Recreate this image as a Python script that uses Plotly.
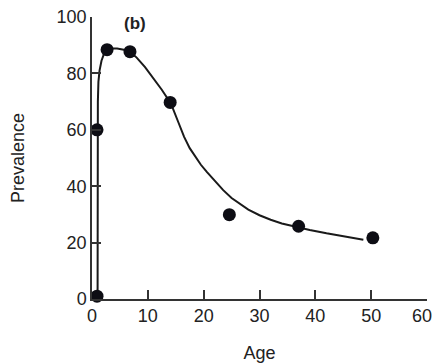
import plotly.graph_objects as go

# Observed data points
age_obs = [0.9, 0.9, 2.7, 6.8, 14.0, 24.6, 37.0, 50.3]
prev_obs = [1, 60, 88.4, 87.7, 69.7, 29.9, 25.8, 21.7]

# Fitted curve
age_fit = [1.0, 1.0, 1.05, 1.15, 1.35, 1.7, 2.2, 2.7, 3.5, 4.5, 5.7, 6.8, 8.0, 9.5, 11.0,
           12.5, 13.5, 14.5, 15.5, 16.5, 17.5, 18.5, 19.5, 20.6, 22.0, 23.5, 25.0, 26.5,
           28.0, 30.0, 32.0, 34.0, 36.6, 39.0, 42.0, 45.0, 48.6]
prev_fit = [0, 40, 70, 77, 81, 84.5, 87.2, 88.4, 88.8, 88.8, 88.4, 87.7, 85.6, 82.2, 78.3,
            74.2, 71.2, 67.5, 62.5, 57.5, 53.5, 50.3, 47.6, 45, 41.8, 38.6, 35.8, 33.6,
            31.7, 29.7, 28.1, 26.8, 25.5, 24.5, 23.3, 22.2, 21]

x_ticks = [0, 10, 20, 30, 40, 50, 60]
x_tick_labels = ["0", "10", "20", "30", "40", "50", "60"]
y_ticks = [0, 20, 40, 60, 80, 100]

font_family = "Liberation Sans, Arial, sans-serif"
ink = "#222222"

# keep the last x label inside the visible page
x_text = x_tick_labels[:-1] + [x_tick_labels[-1] + "\u00a0\u00a0"]

fig = go.Figure()
fig.add_trace(go.Scatter(x=age_fit, y=prev_fit, mode="lines",
                         line=dict(color="#1a1a1a", width=2),
                         hoverinfo="skip", showlegend=False, cliponaxis=False))
fig.add_trace(go.Scatter(x=age_obs, y=prev_obs, mode="markers",
                         marker=dict(color="#0d0d14", size=13),
                         showlegend=False, cliponaxis=False))

fig.add_annotation(x=7.7, y=97.6, xref="x", yref="y", text="<b>(b)</b>",
                   showarrow=False, font=dict(family=font_family, size=17, color=ink))

fig.update_layout(
    width=433, height=356,
    margin=dict(l=84, r=14, t=9, b=65),
    paper_bgcolor="white", plot_bgcolor="white",
    font=dict(family=font_family, size=18, color=ink),
    xaxis=dict(range=[0, 60], tickvals=x_ticks, ticktext=x_text, ticks="inside", ticklen=9,
               tickwidth=1.5, tickcolor="#333", showline=True, linecolor="#333",
               linewidth=1.5, showgrid=False, zeroline=False, automargin=False,
               ticklabeloverflow="allow",
               title=dict(text="Age", font=dict(size=18), standoff=21),
               tickfont=dict(size=18)),
    yaxis=dict(range=[0, 100], tickvals=y_ticks, ticks="inside", ticklen=9,
               tickwidth=1.5, tickcolor="#333", showline=True, linecolor="#333",
               linewidth=1.5, showgrid=False, zeroline=False, automargin=False,
               ticklabeloverflow="allow",
               title=dict(text="Prevalence", font=dict(size=18), standoff=30),
               tickfont=dict(size=18)),
)

fig.write_html("out.html")
